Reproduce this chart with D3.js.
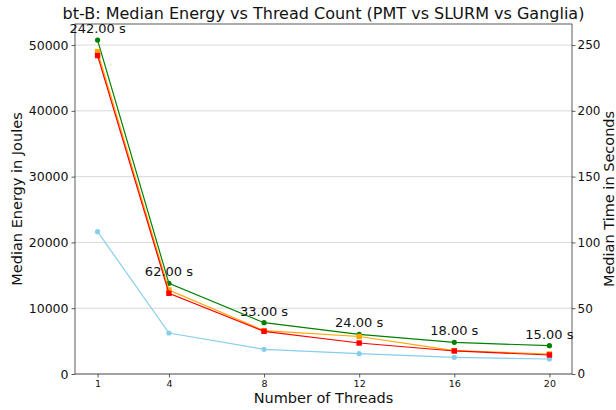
<!DOCTYPE html>
<html>
<head>
<meta charset="utf-8">
<script src="https://cdn.jsdelivr.net/npm/d3@7"></script>
<style>
  html, body { margin: 0; padding: 0; background: #fff; }
  svg { display: block; font-family: "DejaVu Sans", sans-serif; }
</style>
</head>
<body>
<svg id="chart" width="616" height="410"></svg>
<script>
// Median energy per thread count, one array per source
const threads = [1, 4, 8, 12, 16, 20];
const greenEnergy = [50750, 13780, 7800, 6030, 4810, 4300];
const orangeEnergy = [49000, 12770, 6600, 5700, 3560, 3040];
const redEnergy = [48400, 12260, 6490, 4710, 3500, 2890];
const blueEnergy = [21630, 6230, 3750, 3090, 2530, 2280];
const medianTime = [242, 62, 33, 24, 18, 15];
const energyTicks = [0, 10000, 20000, 30000, 40000, 50000];
const timeTicks = [0, 50, 100, 150, 200, 250];

const series = [
  { values: blueEnergy, color: '#87ceeb', marker: 'circle' },
  { values: greenEnergy, color: '#008000', marker: 'circle' },
  { values: orangeEnergy, color: '#ffa500', marker: 'square' },
  { values: redEnergy, color: '#ff0000', marker: 'square' }
];

const L = 75, R = 572, T = 24, B = 374;
const svg = d3.select('#chart');

const x = d3.scaleLinear().domain([0.05, 20.95]).range([L, R]);
const y = d3.scaleLinear().domain([0, 53200]).range([B, T]);
const yT = d3.scaleLinear().domain([0, 266]).range([B, T]);

// horizontal grid
svg.append('g').selectAll('line').data(energyTicks).join('line')
  .attr('x1', L).attr('x2', R)
  .attr('y1', d => y(d)).attr('y2', d => y(d))
  .attr('stroke', '#cfcfcf').attr('stroke-width', 0.8);

// lines + markers
const line = d3.line().x((d, i) => x(threads[i])).y(d => y(d));
for (const s of series) {
  svg.append('path').datum(s.values)
    .attr('d', line).attr('fill', 'none')
    .attr('stroke', s.color).attr('stroke-width', 1.2);
  const g = svg.append('g').attr('fill', s.color);
  if (s.marker === 'circle') {
    g.selectAll('circle').data(s.values).join('circle')
      .attr('cx', (d, i) => x(threads[i])).attr('cy', d => y(d)).attr('r', 2.6);
  } else {
    g.selectAll('rect').data(s.values).join('rect')
      .attr('x', (d, i) => x(threads[i]) - 2.7).attr('y', d => y(d) - 2.7)
      .attr('width', 5.4).attr('height', 5.4);
  }
}

// axes
const xAxis = svg.append('g').attr('transform', `translate(0,${B})`)
  .call(d3.axisBottom(x).tickValues(threads).tickSize(3.5).tickPadding(3));
xAxis.selectAll('text').attr('font-size', 9.5);

const yAxis = svg.append('g').attr('transform', `translate(${L},0)`)
  .call(d3.axisLeft(y).tickValues(energyTicks).tickFormat(d3.format('d')).tickSize(3.5).tickPadding(3));
yAxis.selectAll('text').attr('font-size', 12.5);

const yAxisR = svg.append('g').attr('transform', `translate(${R},0)`)
  .call(d3.axisRight(yT).tickValues(timeTicks).tickSize(3.5).tickPadding(2));
yAxisR.selectAll('text').attr('font-size', 12);

for (const g of [xAxis, yAxis, yAxisR]) {
  g.select('.domain').remove();
  g.selectAll('line').attr('stroke', '#333').attr('stroke-width', 0.8);
  g.selectAll('text').attr('fill', '#111').attr('font-family', '"DejaVu Sans", sans-serif');
}

// frame
svg.append('rect').attr('x', L).attr('y', T).attr('width', R - L).attr('height', B - T)
  .attr('fill', 'none').attr('stroke', '#333').attr('stroke-width', 0.8);

// time annotations above the highest point
const topEnergy = threads.map((_, i) => d3.max(series, s => s.values[i]));
svg.append('g').selectAll('text').data(medianTime).join('text')
  .attr('x', (d, i) => x(threads[i]))
  .attr('y', (d, i) => y(topEnergy[i]) - 7)
  .attr('text-anchor', 'middle')
  .attr('font-size', 13).attr('fill', '#111')
  .text(d => d.toFixed(2) + ' s');

// titles
svg.append('text').attr('x', (L + R) / 2).attr('y', 19)
  .attr('text-anchor', 'middle').attr('font-size', 16).attr('fill', '#111')
  .text('bt-B: Median Energy vs Thread Count (PMT vs SLURM vs Ganglia)');

svg.append('text').attr('x', (L + R) / 2).attr('y', 403)
  .attr('text-anchor', 'middle').attr('font-size', 14.5).attr('fill', '#111')
  .text('Number of Threads');

svg.append('text').attr('transform', `translate(22,${(T + B) / 2}) rotate(-90)`)
  .attr('text-anchor', 'middle').attr('font-size', 14.5).attr('fill', '#111')
  .text('Median Energy in Joules');

svg.append('text').attr('transform', `translate(614,${(T + B) / 2}) rotate(-90)`)
  .attr('text-anchor', 'middle').attr('font-size', 14.5).attr('fill', '#111')
  .text('Median Time in Seconds');
</script>
</body>
</html>
